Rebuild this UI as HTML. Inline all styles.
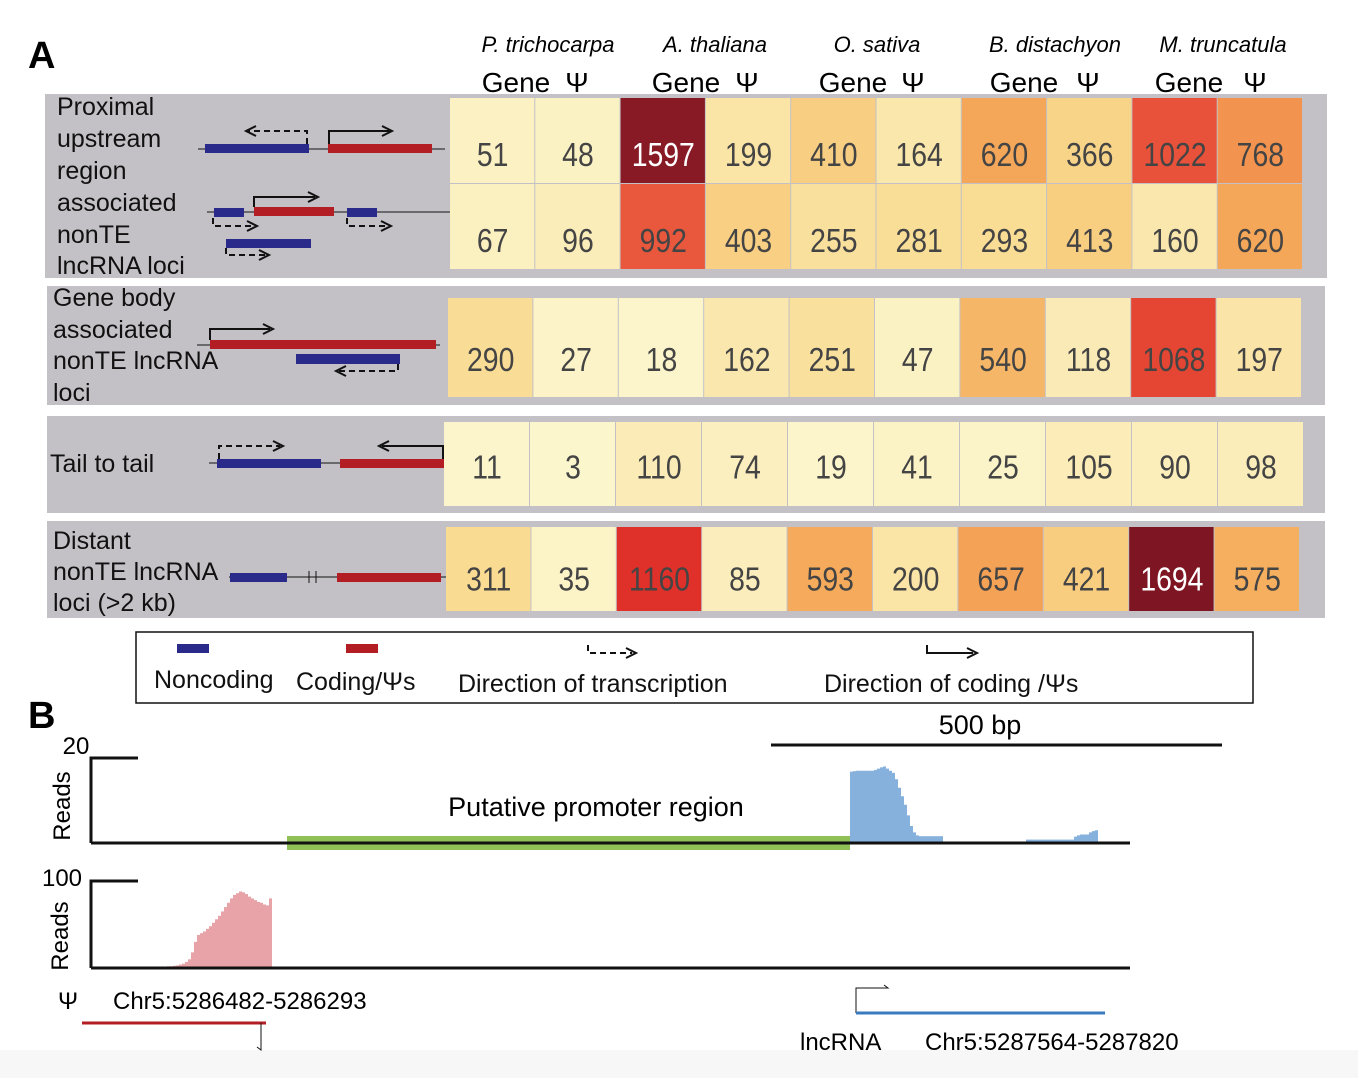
<!DOCTYPE html>
<html><head><meta charset="utf-8"><style>
body{margin:0;background:#fff;}
svg text{font-family:"Liberation Sans Narrow","Liberation Sans",sans-serif;}
</style></head><body>
<svg id="fig" width="1358" height="1078" viewBox="0 0 1358 1078" xmlns="http://www.w3.org/2000/svg">
<rect x="0" y="1050" width="1358" height="28" fill="#f7f7f7"/>
<text x="28" y="68" font-size="38" font-weight="bold" style="font-family:'Liberation Sans',sans-serif">A</text>
<text x="28" y="728" font-size="38" font-weight="bold" style="font-family:'Liberation Sans',sans-serif">B</text>
<g id="headers"></g>
<rect x="45" y="94" width="1282" height="184" fill="#c3c1c6"/>
<rect x="47" y="286" width="1278" height="119" fill="#c3c1c6"/>
<rect x="47" y="416" width="1278" height="97" fill="#c3c1c6"/>
<rect x="47" y="521" width="1278" height="97" fill="#c3c1c6"/>
<g font-size="25" fill="#111" style="font-family:'Liberation Sans',sans-serif">
<text x="57" y="115">Proximal</text><text x="57" y="147">upstream</text><text x="57" y="179">region</text>
<text x="57" y="211">associated</text><text x="57" y="243">nonTE</text><text x="57" y="274">lncRNA loci</text>
<text x="53" y="306">Gene body</text><text x="53" y="338">associated</text><text x="53" y="369">nonTE lncRNA</text><text x="53" y="401">loci</text>
<text x="50" y="472">Tail to tail</text>
<text x="53" y="549">Distant</text><text x="53" y="580">nonTE lncRNA</text><text x="53" y="611">loci (&gt;2 kb)</text>
</g>
<g fill="none" stroke="#111" stroke-width="2">
<line x1="198" y1="149" x2="445" y2="149" stroke-width="1"/>
<rect x="205" y="144" width="104" height="9" fill="#2a2a8a" stroke="none"/>
<rect x="328" y="144" width="104" height="9" fill="#b31d24" stroke="none"/>
<polyline points="307,144 307,131 248,131" stroke-dasharray="6,4"/><polyline points="256,126 246,131 256,136"/>
<polyline points="329,144 329,131 390,131"/><polyline points="382,126 392,131 382,136"/>
<line x1="207" y1="212" x2="450" y2="212" stroke-width="1"/>
<rect x="214" y="208" width="30" height="9" fill="#2a2a8a" stroke="none"/>
<rect x="254" y="207" width="80" height="9" fill="#b31d24" stroke="none"/>
<rect x="347" y="208" width="30" height="9" fill="#2a2a8a" stroke="none"/>
<rect x="226" y="239" width="85" height="9" fill="#2a2a8a" stroke="none"/>
<polyline points="254,207 254,197 315,197"/><polyline points="308,192 318,197 308,202"/>
<polyline points="213,218 213,226 255,226" stroke-dasharray="6,4"/><polyline points="247,221 257,226 247,231"/>
<polyline points="347,218 347,226 388,226" stroke-dasharray="6,4"/><polyline points="381,221 391,226 381,231"/>
<polyline points="226,248 226,255 266,255" stroke-dasharray="6,4"/><polyline points="259,250 269,255 259,260"/>
<line x1="197" y1="345" x2="440" y2="345" stroke-width="1"/>
<rect x="210" y="340" width="226" height="9" fill="#b31d24" stroke="none"/>
<rect x="296" y="354" width="104" height="10" fill="#2a2a8a" stroke="none"/>
<polyline points="210,340 210,329 270,329"/><polyline points="263,324 273,329 263,334"/>
<polyline points="398,364 398,371 338,371" stroke-dasharray="6,4"/><polyline points="346,366 336,371 346,376"/>
<line x1="209" y1="463" x2="445" y2="463" stroke-width="1"/>
<rect x="217" y="459" width="104" height="9" fill="#2a2a8a" stroke="none"/>
<rect x="340" y="459" width="104" height="9" fill="#b31d24" stroke="none"/>
<polyline points="219,459 219,446 280,446" stroke-dasharray="6,4"/><polyline points="273,441 283,446 273,451"/>
<polyline points="443,459 443,446 382,446"/><polyline points="389,441 379,446 389,451"/>
<line x1="229" y1="577" x2="455" y2="577" stroke-width="1"/>
<rect x="230" y="573" width="57" height="9" fill="#2a2a8a" stroke="none"/>
<rect x="337" y="573" width="104" height="9" fill="#b31d24" stroke="none"/>
<line x1="309" y1="571" x2="309" y2="583" stroke-width="1"/><line x1="316" y1="571" x2="316" y2="583" stroke-width="1"/>
</g>
<g id="heat"></g>
<g>
<rect x="136" y="632" width="1117" height="71" fill="#fff" stroke="#111" stroke-width="1.5"/>
<rect x="177" y="644" width="32" height="9" fill="#2a2a8a"/>
<rect x="346" y="644" width="32" height="9" fill="#b31d24"/>
<polyline points="588,645 588,653 632,653" fill="none" stroke="#111" stroke-width="2" stroke-dasharray="6,4"/><polyline points="626,648 636,653 626,658" fill="none" stroke="#111" stroke-width="2"/>
<polyline points="927,645 927,653 973,653" fill="none" stroke="#111" stroke-width="2"/><polyline points="967,648 977,653 967,658" fill="none" stroke="#111" stroke-width="2"/>
<g font-size="25" fill="#111" style="font-family:'Liberation Sans',sans-serif">
<text x="154" y="688">Noncoding</text><text x="296" y="690">Coding/Ψs</text>
<text x="458" y="692">Direction of transcription</text><text x="824" y="692">Direction of coding /Ψs</text>
</g></g>
<g>
<line x1="771" y1="745" x2="1222" y2="745" stroke="#111" stroke-width="3"/>
<text x="980" y="734" font-size="27" text-anchor="middle" style="font-family:'Liberation Sans',sans-serif">500 bp</text>
<text x="76" y="754" font-size="24" text-anchor="middle" style="font-family:'Liberation Sans',sans-serif">20</text>
<text x="62" y="886" font-size="24" text-anchor="middle" style="font-family:'Liberation Sans',sans-serif">100</text>
<text transform="translate(70,806) rotate(-90)" font-size="24" text-anchor="middle" style="font-family:'Liberation Sans',sans-serif">Reads</text>
<text transform="translate(68,936) rotate(-90)" font-size="24" text-anchor="middle" style="font-family:'Liberation Sans',sans-serif">Reads</text>
<polyline points="138,758 91,758 91,843" fill="none" stroke="#111" stroke-width="3"/>
<polyline points="138,881 91,881 91,968" fill="none" stroke="#111" stroke-width="3"/>
<rect x="287" y="836" width="563" height="14" fill="#8fc156"/>
<text x="596" y="816" font-size="27" text-anchor="middle" style="font-family:'Liberation Sans',sans-serif">Putative promoter region</text>
<g id="hist"></g>
<line x1="91" y1="843" x2="1130" y2="843" stroke="#111" stroke-width="3"/>
<line x1="91" y1="968" x2="1130" y2="968" stroke="#111" stroke-width="3"/>
<text x="58" y="1009" font-size="24" style="font-family:'Liberation Sans',sans-serif">Ψ</text>
<text x="113" y="1009" font-size="24" style="font-family:'Liberation Sans',sans-serif">Chr5:5286482-5286293</text>
<line x1="82" y1="1023" x2="266" y2="1023" stroke="#b31d24" stroke-width="3"/>
<polyline points="261,1023 261,1050 257,1047" fill="none" stroke="#111" stroke-width="1"/>
<polyline points="856,1013 856,988 888,988 884,985" fill="none" stroke="#111" stroke-width="1"/>
<line x1="856" y1="1013" x2="1105" y2="1013" stroke="#3a7bbf" stroke-width="3"/>
<text x="800" y="1050" font-size="24" style="font-family:'Liberation Sans',sans-serif">lncRNA</text>
<text x="925" y="1050" font-size="24" style="font-family:'Liberation Sans',sans-serif">Chr5:5287564-5287820</text>
</g>
</svg>
<script>
const species=["P. trichocarpa","A. thaliana","O. sativa","B. distachyon","M. truncatula"];
const row1=[51,48,1597,199,410,164,620,366,1022,768];
const row2=[67,96,992,403,255,281,293,413,160,620];
const row3=[290,27,18,162,251,47,540,118,1068,197];
const row4=[11,3,110,74,19,41,25,105,90,98];
const row5=[311,35,1160,85,593,200,657,421,1694,575];
const blueReads1=[16.8,16.9,17,17,17,17,17,17,17.2,17.5,17.8,18,17.5,17,16.5,15,13,11,9,6.5,4,2.5,1.8,1.6,1.6,1.6,1.6,1.6,1.6,1.6,1.6];
const blueReads2=[0.8,0.8,0.8,0.8,0.8,0.8,0.8,0.8,0.8,0.8,0.8,0.8,0.8,0.8,0.8,0.8,1.5,1.8,2,2,2,2.5,2.8,3];
const redReads=[0.5,1,1,1.5,2,2,2.5,3,4,5,7,10,18,30,38,40,42,45,48,52,56,60,65,70,75,80,84,86,88,87,85,82,80,78,76,75,73,72,80];
const NS="http://www.w3.org/2000/svg";
function mk(t,a,p){const e=document.createElementNS(NS,t);for(const k in a)e.setAttribute(k,a[k]);p.appendChild(e);return e;}
const stops=[[0,[252,246,206]],[150,[250,232,175]],[300,[249,220,148]],[420,[248,205,128]],[600,[245,170,90]],[780,[242,146,78]],[1000,[233,86,60]],[1160,[224,48,42]],[1500,[145,30,40]],[1700,[125,21,34]]];
function col(v){for(let i=1;i<stops.length;i++){if(v<=stops[i][0]){const a=stops[i-1],b=stops[i];const t=(v-a[0])/(b[0]-a[0]);return 'rgb('+a[1].map((c,j)=>Math.round(c+(b[1][j]-c)*t)).join(',')+')';}}return 'rgb(125,21,34)';}
const heat=document.getElementById('heat');
const rows=[[row1,450,98,86,85.3,25],[row2,450,184,86,85.3,25],[row3,448,298,100,85.4,23],[row4,444,422,85,86,14],[row5,446,527,85,85.4,21]];
const names=['proximal-row1','proximal-row2','gene-body','tail-to-tail','distant'];
rows.forEach((r,ri)=>{const [vals,x0,y0,h,w,off]=r;
vals.forEach((v,i)=>{
const c=mk('rect',{x:x0+i*w,y:y0,width:w-1,height:h-1,fill:col(v)},heat);


const t=mk('text',{transform:'translate('+(x0+i*w+w/2)+','+(y0+h/2+off)+') scale(0.86,1)','text-anchor':'middle','font-size':33,fill:v>=1400?'#fff':'#444'},heat);
t.textContent=v;

});});
const hd=document.getElementById('headers');
const cx=[548,715,877,1055,1223];
const gx=[516,686,853,1024,1189];
const px=[577,747,913,1088,1255];
species.forEach((s,i)=>{
const t=mk('text',{x:cx[i],y:52,'text-anchor':'middle','font-size':22,'font-style':'italic'},hd);t.textContent=s;


const g=mk('text',{x:gx[i],y:92,'text-anchor':'middle','font-size':28},hd);g.textContent='Gene';


const p=mk('text',{x:px[i],y:92,'text-anchor':'middle','font-size':28},hd);p.textContent='Ψ';

});
const hist=document.getElementById('hist');
const yTop=v=>843-v*85/20, yBot=v=>968-v*87/100;
function bars(arr,x0,bw,yf,base,fill){arr.forEach((v,i)=>{const y=yf(v);const b=mk('rect',{x:x0+i*bw,y:y,width:bw,height:base-y,fill:fill},hist);

});}
bars(blueReads1,850,3,yTop,843,'#86b1dd');
bars(blueReads2,1026,3,yTop,843,'#86b1dd');
bars(redReads,155,3,yBot,968,'#e8a3a8');
</script>
</body></html>
